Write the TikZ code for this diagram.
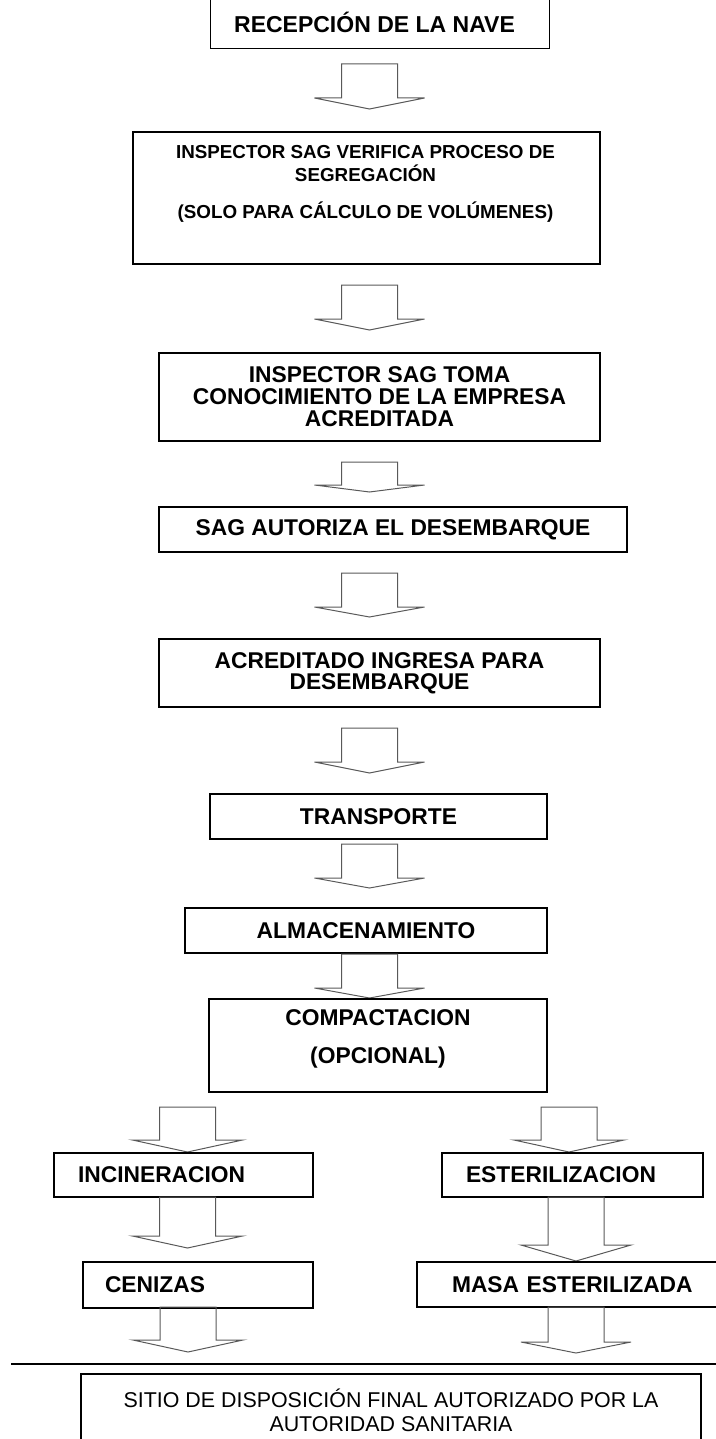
\documentclass[tikz,border=0pt]{standalone}
\usepackage{fontspec}
\setmainfont{Liberation Sans}
\tikzset{
	caja/.style={draw,line width=0.65pt,inner sep=0pt,align=center,font=\fontsize{11.4}{11}\selectfont\bfseries},
	texto/.style={inner sep=0pt,align=center,anchor=north},
	flecha/.style={draw=black!65,line width=0.5pt,line join=miter},
}
\newcommand{\bloque}[4]{\draw[flecha] (#1-28,#2) -- (#1-28,#3) -- (#1-55,#3) -- (#1,#4) -- (#1+55,#3) -- (#1+28,#3) -- (#1+28,#2) -- cycle;}
\begin{document}
\begin{tikzpicture}[x=0.5pt,y=-0.5pt]
	\useasboundingbox (0,0) rectangle (716,1439);
	\node[inner sep=0pt,minimum width=169pt,minimum height=32pt] (recepcion) at (380,16) {};
	\draw[line width=0.65pt] (recepcion.north west) -- (recepcion.south west) -- (recepcion.south east) -- (recepcion.north east);
	\node[inner sep=0pt,anchor=base,font=\fontsize{11.5}{12}\selectfont\bfseries] (recepcionT) at (374.5,33) {RECEPCIÓN DE LA NAVE};
	\bloque{369.5}{64}{98}{109}
	\node[caja,minimum width=233.5pt,minimum height=66pt] (verifica) at (366.5,198) {};
	\node[texto,font=\fontsize{9.4}{11.5}\selectfont\bfseries] (verificaT) at (365.5,145) {INSPECTOR SAG VERIFICA PROCESO DE\\SEGREGACIÓN\\[7pt](SOLO PARA CÁLCULO DE VOLÚMENES)};
	\bloque{369.5}{285}{319}{330}
	\node[caja,minimum width=220.5pt,minimum height=44pt] (toma) at (379.5,397) {INSPECTOR SAG TOMA\\CONOCIMIENTO DE LA EMPRESA\\ACREDITADA};
	\bloque{369.5}{462}{485}{492}
	\node[caja,minimum width=234pt,minimum height=22.5pt] (autoriza) at (393,529.5) {SAG AUTORIZA EL DESEMBARQUE};
	\bloque{369.5}{573}{607}{617}
	\node[caja,minimum width=220.5pt,minimum height=34pt] (ingresa) at (379.5,673) {ACREDITADO INGRESA PARA\\[-0.5pt]DESEMBARQUE};
	\bloque{369.5}{728}{762}{773}
	\node[caja,minimum width=168.5pt,minimum height=22.5pt] (transporte) at (378.5,816.5) {TRANSPORTE};
	\bloque{369.5}{844}{878}{888}
	\node[caja,minimum width=181pt,minimum height=22.5pt] (almacen) at (366,930.5) {ALMACENAMIENTO};
	\bloque{369.5}{954}{988}{998}
	\node[caja,minimum width=169pt,minimum height=46.5pt] (compacta) at (378,1045.5) {};
	\node[texto,font=\fontsize{11.4}{11}\selectfont\bfseries] (compactaT) at (378,1009.5) {COMPACTACION\\[8pt](OPCIONAL)};
	% dos ramas
	\bloque{187.5}{1107}{1140}{1152}
	\bloque{569}{1107}{1140}{1152}
	\node[caja,align=left,text width=105.5pt,minimum width=129.5pt,minimum height=22pt] (incinera) at (183.5,1175) {INCINERACION};
	\node[caja,align=left,text width=106.5pt,minimum width=130.5pt,minimum height=22pt] (esteril) at (572.5,1175) {ESTERILIZACION};
	\bloque{187.5}{1197}{1236}{1248}
	\bloque{576}{1197}{1245}{1261}
	\node[caja,align=left,text width=93pt,minimum width=115pt,minimum height=23pt] (cenizas) at (198,1285) {CENIZAS};
	\node[caja,align=left,text width=129pt,minimum width=164pt,minimum height=22.5pt] (masa) at (581,1284.5) {MASA ESTERILIZADA};
	\bloque{188}{1307}{1340}{1352}
	\bloque{576}{1307}{1342}{1353}
	\draw[line width=0.6pt] (11,1364) -- (716,1364);
	\node[caja,minimum width=310pt,minimum height=36pt,font=\fontsize{10.7}{12}\selectfont] (sitio) at (391,1410) {SITIO DE DISPOSICIÓN FINAL AUTORIZADO POR LA\\AUTORIDAD SANITARIA};
\end{tikzpicture}
\end{document}
